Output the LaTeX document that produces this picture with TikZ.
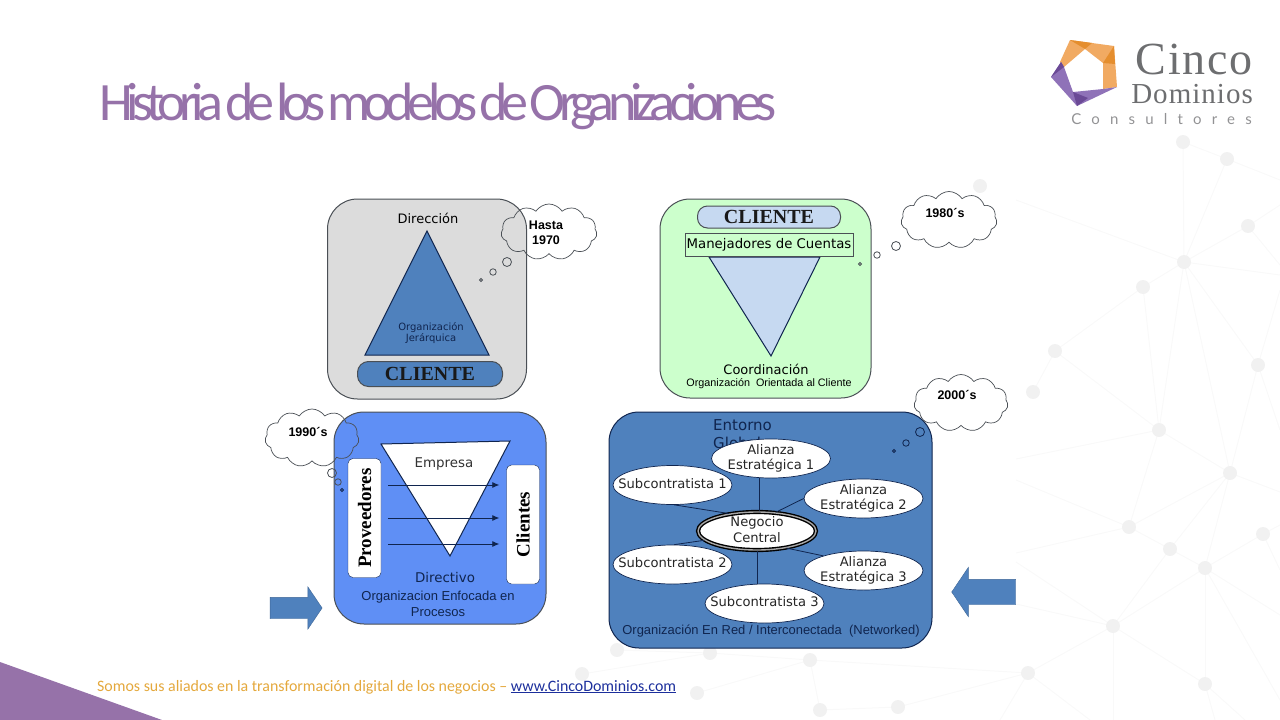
\documentclass[tikz,border=0pt]{standalone}
\usepackage{fontspec}
\setmainfont{Liberation Sans}
\newfontfamily\titlefont[LetterSpace=-12,WordSpace=0.35]{Carlito}
\newfontfamily\footfont{Carlito}
\newfontfamily\tahomafont{DejaVu Sans}
\newfontfamily\romanfont{Liberation Serif}
\newfontfamily\cincofont[LetterSpace=4]{Liberation Serif}
\newfontfamily\dominiosfont[LetterSpace=3.5]{Liberation Serif}
\newfontfamily\spacedfont[LetterSpace=68]{Lato}
\usetikzlibrary{arrows.meta,calc,positioning,shapes.geometric,shapes.symbols,shapes.arrows}
\definecolor{violet}{HTML}{9672A9}
\definecolor{panelgray}{HTML}{DCDCDC}
\definecolor{panelgreen}{HTML}{CCFFCC}
\definecolor{panelblue}{HTML}{5F8FF5}
\definecolor{steel}{HTML}{4F81BD}
\definecolor{pale}{HTML}{C6D9F1}
\definecolor{navy}{HTML}{10254F}
\definecolor{edgegray}{HTML}{4A4F55}
\definecolor{logogray}{HTML}{6D6E70}
\definecolor{logoorange}{HTML}{F1AA62}
\definecolor{logodeep}{HTML}{E58E2E}
\definecolor{logopurple}{HTML}{8F72B8}
\definecolor{logodark}{HTML}{6B4A96}
\definecolor{amber}{HTML}{E4A83C}
\definecolor{linkblue}{HTML}{1C2F9C}
\definecolor{netline}{HTML}{F9F9F9}
\definecolor{netdot}{HTML}{F1F1F1}
\newcommand{\px}[2]{\fontsize{#1}{#2}\selectfont}
\newcommand{\inell}[1]{\raisebox{-6.5pt}{\smash{\makebox[0pt]{\begin{tabular}{@{}c@{}}#1\end{tabular}}}}}
\tikzset{
  panel/.style={draw=edgegray,line width=1pt,rounded corners=30pt,inner sep=0pt},
  pill/.style={rectangle,rounded corners=11pt,draw=edgegray,line width=1pt,inner sep=0pt,font=\romanfont\bfseries\px{20}{22}},
  thought/.style={cloud,cloud puffs=11,cloud puff arc=115,draw=edgegray,line width=0.7pt,inner sep=0pt},
  cloudtext/.style={font=\bfseries\px{12.5}{15.5},align=center},
  bubble/.style={circle,draw=edgegray,line width=0.8pt,inner sep=0pt},
  partner/.style={ellipse,draw=navy,fill=white,line width=0.7pt,inner sep=0pt,minimum width=119pt,minimum height=39pt,
    font=\tahomafont\px{13.1}{15.5},text=black!85},
  blockarrow/.style={single arrow,fill=steel,draw=steel!80!black,line width=0.4pt,inner xsep=0pt,single arrow tip angle=112},
  flow/.style={-{Latex[length=7pt,width=6pt]},navy,line width=0.8pt,shorten <=7pt,shorten >=7pt},
  link/.style={navy,line width=0.8pt},
  netedge/.style={netline,line width=1pt}
}
\begin{document}
\begin{tikzpicture}[x=1pt,y=-1pt]
  \useasboundingbox (0,0) rectangle (1280,720);
  % backdrop network
  \foreach \name/\px/\py in {a/1183/142,b/1227/159,c/1248/226,d/1184/262,e/1143/287,f/1055/351,g/1033/392,h/1258/365,
    i/1159/430,j/1230/473,k/1129/527,l/1170/549,m/1205/568,n/1263/534,o/1113/626,p/1028/673,q/1205/684,
    r/617/650,s/710/653,t/810/660,u/582/674,v/697/693,w/820/710,y/898/707,z/980/186}
    \coordinate (\name) at (\px,\py);
  \foreach \from/\to in {a/b,a/d,b/d,c/d,d/e,d/h,d/i,d/j,e/f,e/i,f/g,f/i,h/j,i/j,i/k,j/k,j/l,j/m,k/l,l/m,m/n,m/o,l/o,m/q,o/p,o/q,
    u/s,s/t,t/p,t/w,v/t,w/y,y/p,r/s}
    \draw[netedge] (\from) -- (\to);
  \draw[netedge] (1016,200) -- (d);
  \draw[netedge] (1016,459) -- (i);
  \draw[netedge] (1016,480) -- (k);
  \draw[netedge] (1016,553) -- (k);
  \draw[netedge] (1016,562) -- (o);
  \draw[netedge] (1016,604) -- (o);
  \draw[netedge] (d) -- (1280,275);
  \draw[netedge] (b) -- (1280,180);
  \draw[netedge] (c) -- (1280,205);
  \draw[netedge] (c) -- (1280,265);
  \draw[netedge] (h) -- (1280,430);
  \draw[netedge] (h) -- (1280,290);
  \draw[netedge] (j) -- (1280,492);
  \draw[netedge] (n) -- (1280,525);
  \draw[netedge] (n) -- (1280,570);
  \draw[netedge] (m) -- (1280,615);
  \draw[netedge] (m) -- (1280,700);
  \draw[netedge] (o) -- (1113,720);
  \draw[netedge] (q) -- (1245,720);
  \draw[netedge] (q) -- (1215,720);
  \draw[netedge] (p) -- (1090,720);
  \draw[netedge] (p) -- (1000,720);
  \foreach \name in {a,b,c,d,e,f,g,h,i,j,k,l,m,n,o,p,q,r,s,t,u,v,w,y,z}
    \fill[netdot] (\name) circle (7pt);
  % slide furniture
  \fill[violet] (0,662) -- (162,720) -- (0,720) -- cycle;
  \node[anchor=west,inner sep=0pt,text=violet,font=\titlefont\px{54}{60}] (title) at (99,106) {Historia de los modelos de Organizaciones};
  \node[anchor=west,inner sep=0pt,text=amber,font=\footfont\px{15.9}{18}] (footer) at (97,687)
    {Somos sus aliados en la transformación digital de los negocios – \textcolor{linkblue}{\underline{www.CincoDominios.com}}};
  % logo
  \fill[logoorange] (1070,40) -- (1114,46) -- (1117,87) -- (1103,89) -- (1103,63) -- (1085,49) -- (1064,67) -- (1060,62) -- cycle;
  \fill[logopurple] (1051,77) -- (1061,62) -- (1064,67) -- (1073,92) -- (1103,89) -- (1117,87) -- (1077,106) -- cycle;
  \fill[logodeep] (1070,40) -- (1092,43) -- (1085,49) -- cycle;
  \fill[logodeep] (1114,46) -- (1115,64) -- (1103,63) -- cycle;
  \fill[logodark] (1051,77) -- (1061,62) -- (1064,67) -- cycle;
  \fill[logodark] (1077,106) -- (1073,92) -- (1088,98) -- cycle;
  \node[anchor=base east,inner sep=0pt,text=logogray,font=\cincofont\px{46}{46}] (cinco) at (1253,74) {Cinco};
  \node[anchor=base east,inner sep=0pt,text=logogray,font=\dominiosfont\px{29}{29}] (dominios) at (1253,103) {Dominios};
  \node[anchor=base east,inner sep=0pt,text=logogray!75,font=\spacedfont\px{15}{15}] (consultores) at (1252,124) {Consultores};
  % hierarchy panel
  \node[panel,fill=panelgray,minimum width=199pt,minimum height=200pt] (jerarquia) at (427,299) {};
  \draw[fill=steel,draw=navy,line width=1pt] (427,231) -- (365,355) -- (489,355) -- cycle;
  \node[font=\tahomafont\px{13}{15}] (direccion) at (428,218) {Dirección};
  \node[font=\tahomafont\px{10}{11.5},align=center,text=navy] (orgjer) at (431,333) {Organización\\Jerárquica};
  \node[pill,fill=steel,minimum width=145pt,minimum height=25pt,text=black!90] (cliente1) at (430,374) {CLIENTE};
  \node[thought,minimum width=96pt,minimum height=56pt] (nube70) at (549,232) {};
  \node[cloudtext] (hasta) at (546,233) {Hasta\\1970};
  \node[bubble,minimum size=9pt] (b70a) at (507,262) {};
  \node[bubble,minimum size=6.5pt] (b70b) at (493,272) {};
  \node[bubble,minimum size=3pt] (b70c) at (481,280) {};
  % client panel
  \node[panel,fill=panelgreen,minimum width=211pt,minimum height=199pt] (orientada) at (765.5,298.5) {};
  \draw[fill=pale,draw=navy,line width=1pt] (709,257) -- (820,257) -- (771,356) -- cycle;
  \node[pill,fill=pale,minimum width=143pt,minimum height=22pt,rounded corners=10pt,text=black!90] (cliente2) at (769,217) {CLIENTE};
  \node[draw=edgegray,line width=0.9pt,fill=panelgreen,inner sep=0pt,minimum width=168pt,minimum height=23pt,font=\tahomafont\px{13.3}{15}] (cuentas) at (769,244.5) {Manejadores de Cuentas};
  \node[font=\tahomafont\px{13}{15}] (coordinacion) at (766,369) {Coordinación};
  \node[font=\px{10.8}{12}] (orgori) at (769,384) {Organización\ \ Orientada al Cliente};
  \node[thought,minimum width=96pt,minimum height=57pt] (nube80) at (949,220) {};
  \node[cloudtext] (y80) at (945,213) {1980´s};
  \node[bubble,minimum size=9pt] (b80a) at (896,246) {};
  \node[bubble,minimum size=6.5pt] (b80b) at (877,255) {};
  \node[bubble,minimum size=3pt] (b80c) at (860,264) {};
  % process panel
  \node[panel,fill=panelblue,minimum width=212pt,minimum height=212pt] (procesos) at (440,518) {};
  \draw[fill=white,draw=navy,line width=1pt] (381,444) -- (510,441) -- (450,556) -- cycle;
  \node[draw=navy,fill=white,rounded corners=5pt,inner sep=0pt,minimum width=33pt,minimum height=119pt] (prov) at (364.5,518) {\rotatebox{90}{\romanfont\bfseries\px{19}{21}Proveedores}};
  \node[draw=navy,fill=white,rounded corners=5pt,inner sep=0pt,minimum width=33pt,minimum height=119pt] (cli) at (523,524.5) {\rotatebox{90}{\romanfont\bfseries\px{19}{21}Clientes}};
  \coordinate (fl1) at (444,485);
  \coordinate (fl2) at (444,518);
  \coordinate (fl3) at (444,544);
  \draw[flow] (fl1 -| prov.east) -- (fl1 -| cli.west);
  \draw[flow] (fl2 -| prov.east) -- (fl2 -| cli.west);
  \draw[flow] (fl3 -| prov.east) -- (fl3 -| cli.west);
  \node[font=\tahomafont\px{13.4}{15},text=black!80] (empresa) at (444,464) {Empresa};
  \node[font=\tahomafont\px{13.4}{15},text=navy] (directivo) at (445,577) {Directivo};
  \node[font=\px{13}{15.5},align=center,text=navy] (orgenf) at (438,604) {Organizacion Enfocada en\\Procesos};
  \node[thought,minimum width=94pt,minimum height=58pt] (nube90) at (312,438) {};
  \node[cloudtext] (y90) at (308,432) {1990´s};
  \node[bubble,minimum size=9pt] (b90a) at (332,473) {};
  \node[bubble,minimum size=6.5pt] (b90b) at (338,482) {};
  \node[bubble,draw=navy,minimum size=3pt] (b90c) at (342,490) {};
  \node[blockarrow,inner ysep=10.5pt,single arrow head extend=10.5pt,minimum height=52pt] (flechaizq) at (292.5,608) {};
  % network panel
  \node[panel,fill=steel,draw=navy,minimum width=323pt,minimum height=236pt] (red) at (770.5,530) {};
  \node[anchor=north west,inner sep=0pt,font=\tahomafont\px{15}{18},align=left,text=navy] (entorno) at (713,419) {Entorno\\Global};
  \node[partner] (al1) at (771,458.5) {\inell{Alianza\\Estratégica 1}};
  \node[partner] (al2) at (863.5,498.5) {\inell{Alianza\\Estratégica 2}};
  \node[partner] (al3) at (863.5,570.5) {\inell{Alianza\\Estratégica 3}};
  \node[partner] (sub1) at (672.5,485) {\inell{Subcontratista 1}};
  \node[partner] (sub2) at (672.5,564.5) {\inell{Subcontratista 2}};
  \node[partner] (sub3) at (764.5,603.5) {\inell{Subcontratista 3}};
  \node[partner,draw=black,line width=1.4pt,double=black!35,double distance=1.4pt,minimum width=118pt,minimum height=38pt] (negocio) at (757,531) {\inell{Negocio\\Central}};
  \draw[link] (negocio.82) -- (negocio.82 |- al1.south);
  \draw[link] (negocio.45) -- (al2.west);
  \draw[link] (negocio.-30) -- (al3.160);
  \draw[link] (negocio.148) -- (sub1.-85);
  \draw[link] (negocio.190) -- (sub2.85);
  \draw[link] (negocio.south) -- (negocio.south |- sub3.north);
  \node[font=\px{12.95}{15},text=navy] (orgred) at (771,631) {Organización En Red / Interconectada\ \ (Networked)};
  \node[thought,minimum width=94pt,minimum height=57pt] (nube00) at (961,403) {};
  \node[cloudtext] (y00) at (957,395) {2000´s};
  \node[bubble,draw=navy,minimum size=9pt] (b00a) at (920,432) {};
  \node[bubble,draw=navy,minimum size=6.5pt] (b00b) at (906,443) {};
  \node[bubble,draw=navy,minimum size=3pt] (b00c) at (894,451) {};
  \node[blockarrow,shape border rotate=180,inner ysep=12.5pt,single arrow head extend=12pt,minimum height=64pt] (flechader) at (988,592) {};
\end{tikzpicture}
\end{document}
